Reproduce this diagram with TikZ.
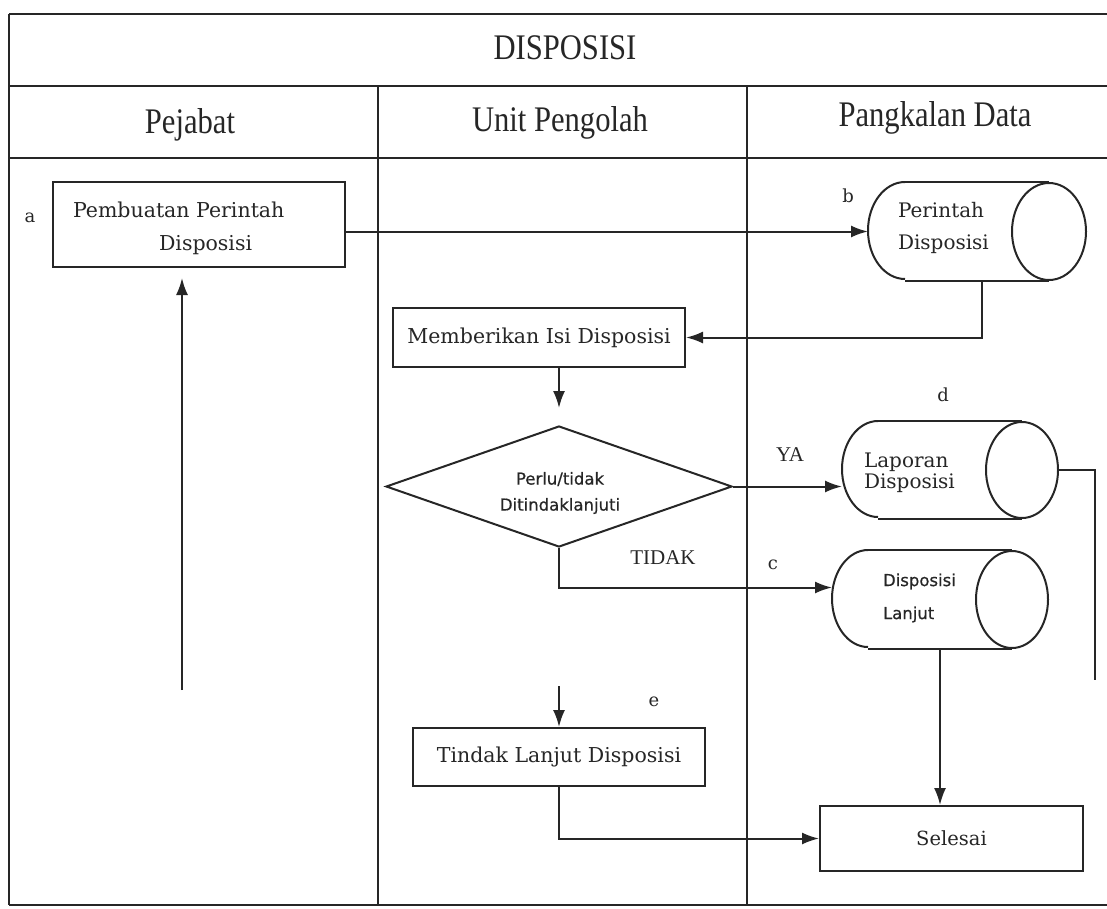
\documentclass[tikz,border=0pt]{standalone}
\usepackage{fontspec}
\setmainfont{DejaVu Serif}
\newfontfamily\hdrfont[FakeStretch=0.85]{Liberation Serif}
\newfontfamily\lblfont{Liberation Serif}
\newfontfamily\sansfnt[FakeBold=0.6]{DejaVu Sans}
\usetikzlibrary{shapes.geometric,arrows.meta}
\newcommand\cylout[3]{%
  \draw ([xshift=#2]#1.north west) -- ([xshift=-#2]#1.north east);
  \draw ([xshift=#2]#1.south west) -- ([xshift=-#2]#1.south east);
  \draw ([xshift=#2]#1.north west) arc[start angle=90,end angle=270,x radius=#2,y radius=#3];
  \draw ([xshift=-#2]#1.east) ellipse[x radius=#2,y radius=#3];
}
\begin{document}
\begin{tikzpicture}[x=1pt,y=1pt,line width=2pt,color=black!85,
  box/.style={draw,rectangle,inner sep=0pt},
  cylbox/.style={rectangle,inner sep=0pt,draw=none},
  arr/.style={-{Latex[length=17pt,width=12pt]}},
  lbl/.style={inner sep=0pt,font=\fontsize{18}{22}\selectfont},
  tlbl/.style={inner sep=0pt,font=\lblfont\fontsize{21}{24}\selectfont},
  hdr/.style={inner sep=0pt,font=\hdrfont\fontsize{36}{40}\selectfont},
  body/.style={inner sep=0pt,font=\fontsize{20.5}{25}\selectfont},
  sans/.style={inner sep=0pt,font=\sansfnt\fontsize{16.5}{26}\selectfont}]
\useasboundingbox (0,0) rectangle (1107,-908);
% table frame
\draw (9,-14) -- (1107,-14);
\draw (9,-86) -- (1107,-86);
\draw (9,-158) -- (1107,-158);
\draw (9,-905) -- (1107,-905);
\draw (9,-14) -- (9,-905);
\draw (378,-86) -- (378,-905);
\draw (747,-86) -- (747,-905);
% headers
\node[hdr] (tt) at (565,-48) {DISPOSISI};
\node[hdr] (h1) at (190,-125) {Pejabat};
\node[hdr] (h2) at (560,-123) {Unit Pengolah};
\node[hdr] (h3) at (935,-118) {Pangkalan Data};
% box a
\node[box,minimum width=292,minimum height=85] (pa) at (199,-224.5) {};
\node[body,anchor=west] (pat1) at (72,-210) {Pembuatan Perintah};
\node[body,anchor=west] (pat2) at (158,-245) {Disposisi};
\node[lbl] (la) at (30,-218) {a};
% cylinder b
\node[cylbox,minimum width=216,minimum height=97] (cb) at (977,-231.5) {};
\cylout{cb}{37pt}{48.5pt}
\node[body,anchor=west,align=left,font=\fontsize{20}{32}\selectfont] (cbt) at (897,-228) {Perintah\\Disposisi};
\node[lbl] (lb) at (848,-196) {b};
% Memberikan
\node[box,minimum width=292,minimum height=59,body] (mb) at (539,-337.5) {Memberikan Isi Disposisi};
% diamond
\node[draw,diamond,inner sep=0pt,minimum width=346,minimum height=121] (dia) at (559,-486.5) {};
\node[sans,align=center] (diat) at (560,-493) {Perlu/tidak\\Ditindaklanjuti};
% cylinder d
\node[cylbox,minimum width=214,minimum height=96] (cd) at (950,-470) {};
\cylout{cd}{36pt}{48pt}
\node[body,anchor=west,align=left,font=\fontsize{20}{21}\selectfont] (cdt) at (863,-473) {Laporan\\Disposisi};
\node[lbl] (ld) at (943,-395) {d};
% cylinder c
\node[cylbox,minimum width=214,minimum height=97] (cc) at (940,-599.5) {};
\cylout{cc}{36pt}{48.5pt}
\node[sans,anchor=west,align=left,font=\sansfnt\fontsize{16.5}{33}\selectfont] (cct) at (882,-598) {Disposisi\\Lanjut};
\node[lbl] (lc) at (773,-565) {c};
% Tindak
\node[box,minimum width=292,minimum height=58,body] (tl) at (559,-757) {Tindak Lanjut Disposisi};
\node[lbl] (le) at (654,-702) {e};
% Selesai
\node[box,minimum width=263,minimum height=65,font=\fontsize{19.5}{23}\selectfont] (se) at (951.5,-838.5) {Selesai};
% labels
\node[tlbl] (ya) at (790,-455) {YA};
\node[tlbl] (td) at (663,-558) {TIDAK};
% free ends
\coordinate (aup) at (182,-690);
\coordinate (e0) at (559,-686);
\coordinate (dend) at (1095,-680);
% connectors
\draw[arr,shorten >=10pt] (aup) -- (aup |- pa.south);
\draw[arr] (cb.west -| pa.east) -- (cb.west);
\draw[arr] ([xshift=5pt]cb.south) |- (mb.east);
\draw[arr,shorten >=17pt] (mb.south -| dia.north) -- (dia.north);
\draw[arr] (dia.east) -- (dia.east -| cd.west);
\draw[arr] (dia.south) |- ([yshift=12pt]cc.west);
\draw (cd.east) -| (dend);
\draw[arr] (cc.south) -- (cc.south |- se.north);
\draw[arr] (e0) -- (tl.north);
\draw[arr] (tl.south) |- (se.west);
\end{tikzpicture}
\end{document}
